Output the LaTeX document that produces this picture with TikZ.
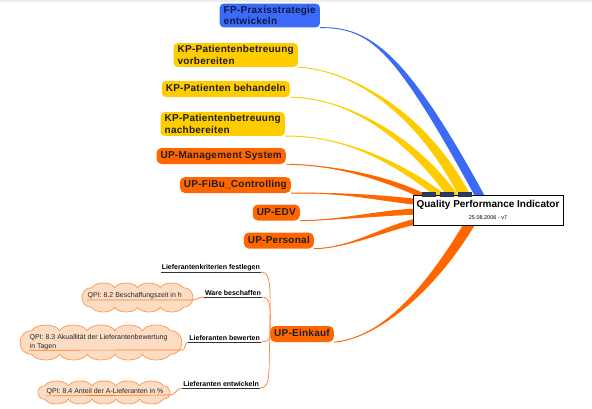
\documentclass[tikz,border=0pt]{standalone}
\usepackage{fontspec}
\setmainfont{Liberation Sans}
\newfontfamily\mmwide[LetterSpace=2.5]{Liberation Sans}
\usetikzlibrary{calc,backgrounds}
\definecolor{blueN}{RGB}{58,106,246}
\definecolor{yellowN}{RGB}{255,204,0}
\definecolor{orangeN}{RGB}{255,102,0}
\definecolor{cloudF}{RGB}{253,220,196}
\definecolor{cloudD}{RGB}{249,150,80}
\definecolor{navyN}{RGB}{30,60,130}
\definecolor{topG}{RGB}{236,236,236}
\definecolor{navyT}{RGB}{15,25,70}

\newcommand\mmtaper[6]{%
  \fill[#1] (#2) .. controls (#3) and ($(#4)+(#6)$) .. ($(#5)+(#6)$) -- ($(#5)-(#6)$) .. controls ($(#4)-(#6)$) and (#3) .. (#2) -- cycle;
  \draw[#1, line width=0.9pt] (#2) .. controls (#3) and (#4) .. (#5);
}

\newcommand\mmcloud[5]{%
  \pgfmathsetmacro\mmbh{0.203*(#3-#4)/(#5-0.406)}%
  \pgfmathsetmacro\mmhi{#4-2*\mmbh}%
  \pgfmathsetmacro\mmcs{(#3-\mmhi)/#5}%
  \pgfmathsetmacro\mmxl{#1+\mmhi/2}%
  \pgfmathsetmacro\mmxr{#1+#3-\mmhi/2}%
  \pgfmathsetmacro\mmyt{-(#2)-\mmbh}%
  \pgfmathsetmacro\mmyb{-(#2)-#4+\mmbh}%
  \filldraw[cloudshape] (\mmxl,\mmyt)
    foreach \i in {1,...,#5} { to[out=60,in=120,looseness=0.8] ({\mmxl+\i*\mmcs},\mmyt) }
    to[out=0,in=0,looseness=1.7] (\mmxr,\mmyb)
    foreach \i in {1,...,#5} { to[out=-120,in=-60,looseness=0.8] ({\mmxr-\i*\mmcs},\mmyb) }
    to[out=180,in=180,looseness=1.7] (\mmxl,\mmyt) -- cycle;
}

\tikzset{
  mmbox/.style={rounded corners=4pt, inner xsep=4pt, inner ysep=2.5pt,
    font=\mmwide\bfseries\fontsize{10}{11.5}\selectfont, align=left, anchor=east, text=black!88},
  oneline/.style={text height=7.5pt, text depth=2.2pt, minimum height=16pt},
  fpbox/.style={mmbox, fill=blueN, text=navyT},
  kpbox/.style={mmbox, fill=yellowN},
  upbox/.style={mmbox, oneline, fill=orangeN, rounded corners=5pt},
  subitem/.style={font=\bfseries\fontsize{7}{8}\selectfont, inner sep=1pt, anchor=south east},
  subline/.style={draw=orangeN!85, line width=0.7pt},
  uline/.style={draw=black!80, line width=0.5pt},
  cloudtxt/.style={font=\fontsize{7}{8.5}\selectfont, inner sep=0.5pt, anchor=west, align=left, text=black!85},
  cloudshape/.style={fill=cloudF, draw=cloudD, line width=0.7pt},
}

\begin{document}
\begin{tikzpicture}[x=1pt,y=1pt]
\useasboundingbox (0,0) rectangle (592,-408);
\fill[topG] (0,0) rectangle (592,-1.5);

% main node
\node[draw=black, line width=0.7pt, fill=white, minimum width=150pt, minimum height=30pt, inner sep=0pt] (qpi) at (488,-210) {};
\node[font=\bfseries\fontsize{10}{12}\selectfont, inner sep=0pt] (qpit) at ($(qpi.center)+(0,5)$) {Quality Performance Indicator};
\node[font=\fontsize{5.5}{6}\selectfont, inner sep=0pt] (qpid) at ($(qpi.center)+(0,-8)$) {25.08.2006 - v7};
\foreach \dx in {10,28,46}
  \draw[fill=navyN, draw=black!80, line width=0.4pt] ($(qpi.north west)+(\dx,2)$) rectangle ++(13,-4);

% branch nodes
\node[fpbox] (fp) at (320,-15.5) {FP-Praxisstrategie\\entwickeln};
\node[kpbox] (kp1) at (298,-55) {KP-Patientenbetreuung\\vorbereiten};
\node[kpbox, oneline] (kp2) at (290,-89) {KP-Patienten behandeln};
\node[kpbox] (kp3) at (285,-124) {KP-Patientenbetreuung\\nachbereiten};
\node[upbox] (um) at (286,-156) {UP-Management System};
\node[upbox] (uf) at (291,-185) {UP-FiBu\_Controlling};
\node[upbox] (ue) at (300,-212.5) {UP-EDV};
\node[upbox] (up) at (314,-240.5) {UP-Personal};
\node[upbox] (uk) at (334,-334) {UP-Einkauf};

% end coordinates on the main node
\coordinate (eB) at ($(qpi.north west)+(67,-1)$);
\coordinate (eY1) at ($(qpi.north west)+(52,-1)$);
\coordinate (eY2) at ($(qpi.north west)+(40,-1)$);
\coordinate (eY3) at ($(qpi.north west)+(28,-1)$);
\coordinate (eM) at ($(qpi.north west)+(12,-2)$);
\coordinate (eF) at ($(qpi.north west)+(2,-7)$);
\coordinate (eE) at ($(qpi.north west)+(2,-17)$);
\coordinate (eP) at ($(qpi.north west)+(3,-27)$);
\coordinate (eK) at ($(qpi.north west)+(57,-29)$);

\begin{pgfonlayer}{background}
\mmtaper{blueN}{fp.south east}{370,-27}{400,-50}{eB}{5,0}
\mmtaper{yellowN}{kp1.south east}{350,-70}{420,-110}{eY1}{6,0}
\mmtaper{yellowN}{kp2.south east}{340,-97}{405,-130}{eY2}{6,0}
\mmtaper{yellowN}{kp3.south east}{340,-135}{395,-160}{eY3}{6,0}
\mmtaper{orangeN}{um.south east}{340,-165}{390,-180}{eM}{0,3}
\mmtaper{orangeN}{uf.south east}{340,-192}{380,-198}{eF}{0,3}
\mmtaper{orangeN}{ue.south east}{340,-220}{380,-213}{eE}{0,3}
\mmtaper{orangeN}{up.south east}{350,-248}{385,-228}{eP}{0,3}
\mmtaper{orangeN}{uk.south east}{380,-338}{430,-290}{eK}{6,0}
\end{pgfonlayer}

% clouds
\mmcloud{82}{283}{111}{29}{4}
\mmcloud{20}{325}{162}{35}{5}
\mmcloud{38}{381}{132}{23}{5}

\node[cloudtxt] (c1) at (87,-296) {QPI: 8.2 Beschaffungszeit in h};
\node[cloudtxt] (c2) at (29,-342) {QPI: 8.3 Akuallität der Lieferantenbewertung\\in Tagen};
\node[cloudtxt] (c3) at (46,-392) {QPI: 8.4 Anteil der A-Lieferanten in \%};
\coordinate (c1r) at (192,-300);
\coordinate (c2r) at (182,-350);
\coordinate (c3r) at (170,-395);

% sub items
\node[subitem] (lk) at (261,-272) {Lieferantenkriterien festlegen};
\node[subitem] (lw) at (262,-297) {Ware beschaffen};
\node[subitem] (lb) at (261,-342) {Lieferanten bewerten};
\node[subitem] (le) at (260,-388) {Lieferanten entwickeln};

\draw[subline] (uk.west) .. controls (270,-290) and (272,-272) .. (lk.south east);
\draw[subline] (uk.west) .. controls (270,-310) and (272,-297) .. (lw.south east);
\draw[subline] (uk.west) .. controls (272,-338) and (268,-342) .. (lb.south east);
\draw[subline] (uk.west) .. controls (268,-370) and (272,-388) .. (le.south east);

\draw[subline] (c1.south west) -- (c1r) to[out=0,in=180] (lw.south west);
\draw[subline] (c2.south west) -- (c2r) to[out=0,in=180] (lb.south west);
\draw[subline] (c3.south west) -- (c3r) to[out=0,in=180] (le.south west);

\foreach \n in {lk,lw,lb,le}
  \draw[uline] (\n.south west) -- (\n.south east);
\end{tikzpicture}
\end{document}
